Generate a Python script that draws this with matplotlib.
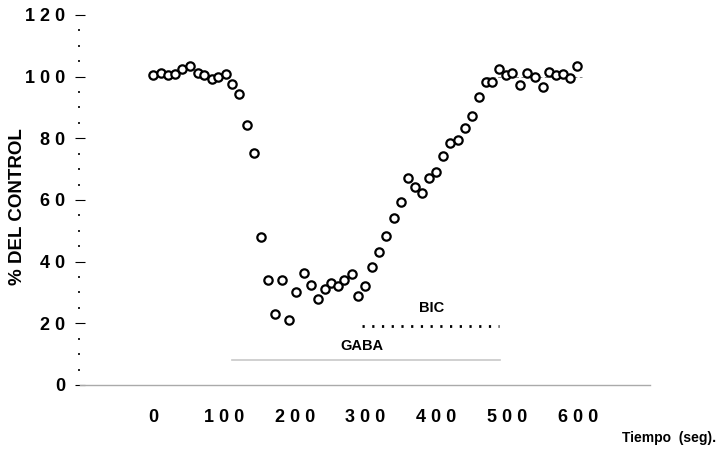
import matplotlib
matplotlib.use('Agg')
import matplotlib.pyplot as plt
import numpy as np

# tiempo (seg) y % del control
tiempo = [0, 11, 21, 31, 41, 52, 64, 72, 83, 92, 103, 112, 122, 133, 143, 153,
          162, 172, 182, 192, 202, 213, 223, 233, 243, 252, 261, 270, 281, 290,
          300, 309, 319, 329, 340, 350, 360, 370, 380, 390, 400, 410, 419, 430,
          440, 450, 460, 470, 479, 488, 498, 507, 518, 528, 539, 550, 559, 569,
          579, 589, 599]
control = [100.5, 101.3, 100.4, 101.0, 102.4, 103.6, 101.2, 100.5, 99.2, 99.8,
           100.9, 97.5, 94.4, 84.3, 75.3, 48.0, 34.0, 23.0, 34.0, 21.0, 30.0,
           36.4, 32.4, 28.0, 31.0, 33.0, 32.0, 34.0, 36.0, 29.0, 32.0, 38.4,
           43.2, 48.4, 54.3, 59.3, 67.2, 64.3, 62.1, 67.2, 69.2, 74.3, 78.4,
           79.5, 83.2, 87.2, 93.3, 98.1, 98.1, 102.5, 100.5, 101.3, 97.3,
           101.3, 100.0, 96.8, 101.6, 100.5, 101.0, 99.4, 103.5]

gaba = [112, 490]
bic = [295, 488]
yticks = [0, 20, 40, 60, 80, 100, 120]
xticks = [0, 100, 200, 300, 400, 500, 600]

plt.rcParams['font.family'] = ['Liberation Sans', 'DejaVu Sans']
plt.rcParams['font.weight'] = 'bold'

fig = plt.figure(figsize=(7.18, 4.54), dpi=100)
ax = fig.add_axes([80 / 718, 1 - 415.8 / 454, (663 - 80) / 718, (415.8 - 8.8) / 454])
ax.set_xlim(-103, 720)
ax.set_ylim(-10, 122)

ax.plot(tiempo, control, 'o', mfc='white', mec='black', ms=6, mew=1.6, zorder=3)
ax.plot([470, 605], [100, 100], color='#777777', lw=0.6, ls=(0, (4, 3)), zorder=1)

# barras de aplicacion
ax.plot(gaba, [8, 8], color='#c8c8c8', lw=1.2)
ax.plot(bic, [19.2, 19.2], color='black', lw=2, ls=(0, (0.8, 2.7)))
ax.text(393, 25, 'BIC', ha='center', va='center', fontsize=10.5, fontweight='bold')
ax.text(295, 12.5, 'GABA', ha='center', va='center', fontsize=10.5, fontweight='bold')

for s in ['top', 'right', 'left']:
    ax.spines[s].set_visible(False)
ax.spines['bottom'].set_position(('data', 0))
ax.spines['bottom'].set_bounds(-103, 702)
ax.spines['bottom'].set_color('#aaaaaa')
ax.spines['bottom'].set_linewidth(1)

ax.set_yticks(yticks)
ax.set_yticklabels([' '.join(str(v)) for v in yticks], fontweight='bold', fontsize=13)
ax.set_yticks(np.arange(5, 120, 5), minor=True)
ax.tick_params(axis='y', which='major', direction='inout', length=7, width=0.8, pad=7)
ax.tick_params(axis='y', which='minor', direction='out', length=1.5, width=1.2)

ax.set_xticks(xticks)
ax.set_xticklabels([' '.join(str(v)) for v in xticks], fontweight='bold', fontsize=13)
ax.tick_params(axis='x', length=0, pad=17)

fig.text(18 / 718, 1 - 207 / 454, '% DEL CONTROL', rotation=90, ha='center',
         va='center', fontsize=13.5, fontweight='bold')
fig.text(0.998, 0.035, 'Tiempo  (seg).', ha='right', va='center', fontsize=10,
         fontweight='bold')

fig.savefig('out.png', dpi=100)
